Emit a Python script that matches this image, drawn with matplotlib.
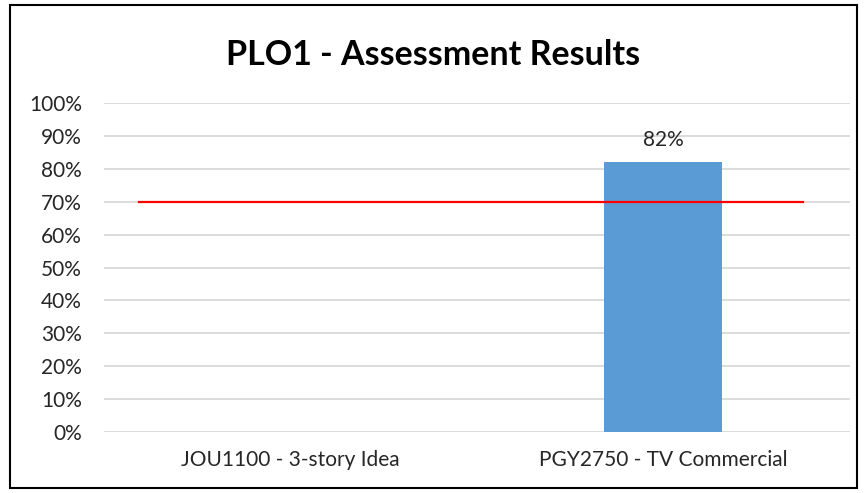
import matplotlib
matplotlib.use("Agg")
import matplotlib.pyplot as plt
from matplotlib.patches import Rectangle

categories = ["JOU1100 - 3-story Idea", "PGY2750 - TV Commercial"]
results = [None, 0.82]
target = 0.70
yticks = [i / 10 for i in range(11)]

plt.rcParams["font.family"] = ["Liberation Sans Narrow", "Lato", "DejaVu Sans"]

fig = plt.figure(figsize=(8.67, 4.93), dpi=100)
ax = fig.add_axes([0.12, 0.1237, 0.86, 0.6673])

xs = list(range(len(categories)))
for x, v in zip(xs, results):
    if v is None:
        continue
    ax.bar(x, v, width=0.316, color="#5b9bd5", zorder=2)
    ax.annotate(f"{v:.0%}", (x, v), xytext=(0, 9), textcoords="offset points",
                ha="center", va="bottom", fontsize=15, color="#262626")

# target line (Excel-style, spans most of the plot)
ax.plot([-0.406, 1.374], [target, target], color="#ff0000", lw=1.6, zorder=3)

ax.set_xlim(-0.5, 1.5)
ax.set_ylim(0, 1.0)
ax.set_yticks(yticks)
ax.set_yticklabels([f"{t:.0%}" for t in yticks], fontsize=15, color="#262626")
ax.set_xticks(xs)
ax.set_xticklabels(categories, fontsize=15, color="#262626")
ax.tick_params(length=0)
ax.tick_params(axis="y", pad=16)
ax.tick_params(axis="x", pad=13)
ax.grid(axis="y", color="#d9d9d9", lw=1.3, zorder=0)
ax.set_axisbelow(True)
for s in ax.spines.values():
    s.set_visible(False)

fig.text(0.5, 0.888, "PLO1 - Assessment Results", ha="center", va="center",
         fontsize=24.5, fontweight="bold", color="black")

fig.patches.append(Rectangle((10 / 867, 5 / 493), 847 / 867, 483 / 493,
                             transform=fig.transFigure, fill=False,
                             edgecolor="black", lw=1.5))

fig.savefig("out.png", dpi=100)
